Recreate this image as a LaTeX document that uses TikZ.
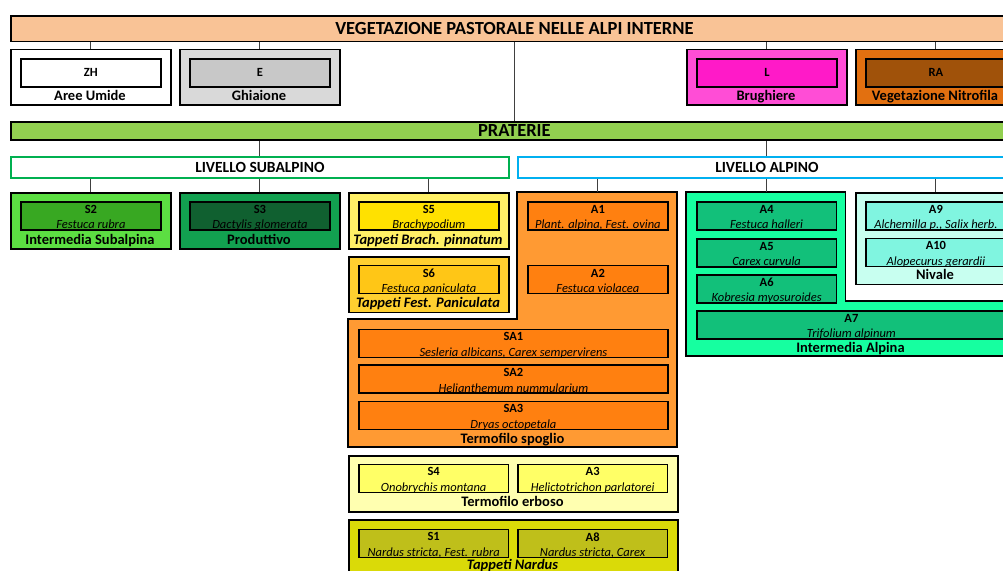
\documentclass[tikz,border=0pt]{standalone}
\usepackage{fontspec}
\setmainfont{Carlito}
\usepackage{tikz}
\usetikzlibrary{positioning,calc}

\definecolor{vegOr}{RGB}{249,195,150}
\definecolor{pratG}{RGB}{146,208,80}
\definecolor{subG}{RGB}{0,176,80}
\definecolor{alpB}{RGB}{0,176,240}
\definecolor{ghiaO}{RGB}{217,217,217}
\definecolor{ghiaI}{RGB}{200,200,200}
\definecolor{brugO}{RGB}{255,77,214}
\definecolor{brugI}{RGB}{255,26,200}
\definecolor{nitrO}{RGB}{226,112,16}
\definecolor{nitrI}{RGB}{160,82,10}
\definecolor{isubO}{RGB}{92,222,66}
\definecolor{isubI}{RGB}{56,168,34}
\definecolor{prodO}{RGB}{18,160,80}
\definecolor{prodI}{RGB}{16,96,48}
\definecolor{brachO}{RGB}{255,240,102}
\definecolor{brachI}{RGB}{255,225,0}
\definecolor{festO}{RGB}{255,208,48}
\definecolor{festI}{RGB}{255,198,22}
\definecolor{spogO}{RGB}{255,154,51}
\definecolor{spogI}{RGB}{255,128,16}
\definecolor{ialpO}{RGB}{22,255,160}
\definecolor{ialpI}{RGB}{18,192,122}
\definecolor{nivO}{RGB}{200,255,240}
\definecolor{nivI}{RGB}{128,245,224}
\definecolor{erbO}{RGB}{255,255,176}
\definecolor{erbI}{RGB}{255,255,102}
\definecolor{nardO}{RGB}{218,218,8}
\definecolor{nardI}{RGB}{191,191,26}

% inner box: name, x, y, width, fill, code, species
\newcommand{\spbox}[7]{%
  \node[inb, minimum width=#4pt, fill=#5, path picture={
    \node[code, anchor=center] (#1c) at ([yshift=-7.5pt]path picture bounding box.north) {#6};
    \node[spec, anchor=base] (#1s) at ([yshift=1pt]path picture bounding box.south) {#7};
  }] (#1) at (#2,#3) {};}

\begin{document}
\begin{tikzpicture}[x=1pt, y=-1pt,
  outl/.style={draw=black, line width=1.8pt},
  grp/.style={outl, anchor=north west, inner sep=0pt},
  bar/.style={grp, font=\bfseries\fontsize{18.5}{19}\selectfont},
  lvl/.style={line width=1.8pt, fill=white, anchor=north west, inner sep=0pt,
    minimum width=498pt, minimum height=21pt, font=\bfseries\fontsize{15.5}{16}\selectfont},
  inb/.style={outl, anchor=north west, inner sep=0pt, minimum height=28pt},
  code/.style={draw=none, fill=none, inner sep=0pt, minimum size=0pt,
    font=\bfseries\fontsize{12.5}{13}\selectfont},
  spec/.style={draw=none, fill=none, inner sep=0pt, minimum size=0pt,
    font=\itshape\fontsize{12.5}{13}\selectfont},
  glab/.style={inner sep=0pt, anchor=base, font=\bfseries\fontsize{14.5}{15}\selectfont},
  glabi/.style={glab, font=\bfseries\itshape\fontsize{14.5}{15}\selectfont},
  conn/.style={draw=black!75, line width=0.9pt}]
\useasboundingbox (0,0) rectangle (1003,570);
\clip (0,0) rectangle (1003,570);

% main levels
\node[bar, fill=vegOr, minimum width=1007pt, minimum height=25.5pt] (veg) at (10,15) {VEGETAZIONE PASTORALE NELLE ALPI INTERNE};
\node[bar, fill=pratG, minimum width=1007pt, minimum height=18.5pt] (prat) at (10,120.7) {PRATERIE};
\node[lvl, draw=subG] (subalp) at (10,155.7) {LIVELLO SUBALPINO};
\node[lvl, draw=alpB] (alp) at (517,155.7) {LIVELLO ALPINO};
\draw[conn] (veg) -- (prat);
\foreach \g in {subalp,alp}
  \draw[conn] (\g.north |- prat.south) -- (\g.north);

% other vegetation
\foreach \n/\x/\o/\i/\c/\l in {zh/10/white/white/ZH/Aree Umide, ghi/179/ghiaO/ghiaI/E/Ghiaione,
    bru/686/brugO/brugI/L/Brughiere, nit/855/nitrO/nitrI/RA/Vegetazione Nitrofila} {
  \node[grp, fill=\o, minimum width=160pt, minimum height=55.5pt] (\n) at (\x,48.5) {};
  \node[inb, code, draw=black, fill=\i, minimum width=140pt, minimum height=28pt] (\n-in) at (\x+10,58) {\c};
  \node[glab] (\n-lb) at (\x+80,100.5) {\l};
  \draw[conn] (\n.north |- veg.south) -- (\n.north);
}

% subalpino
\node[grp, fill=isubO, minimum width=160pt, minimum height=56pt] (gS2) at (10,192) {};
\spbox{s2}{20}{201}{140}{isubI}{S2}{Festuca rubra}
\node[glab] (gS2l) at (90,244) {Intermedia Subalpina};
\node[grp, fill=prodO, minimum width=160pt, minimum height=56pt] (gS3) at (179,192) {};
\spbox{s3}{189}{201}{140}{prodI}{S3}{Dactylis glomerata}
\node[glab] (gS3l) at (259,244) {Produttivo};
\node[grp, fill=brachO, minimum width=160pt, minimum height=56pt] (gS5) at (348,192) {};
\spbox{s5}{358}{201}{140}{brachI}{S5}{Brachypodium}
\node[glabi] (gS5l) at (428,244) {Tappeti Brach. pinnatum};
\node[grp, fill=festO, minimum width=160pt, minimum height=55.5pt] (gS6) at (348,256) {};
\spbox{s6}{358}{264.5}{140}{festI}{S6}{Festuca paniculata}
\node[glabi] (gS6l) at (428,307.5) {Tappeti Fest. Paniculata};

% termofilo spoglio
\draw[outl, fill=spogO] (517,192) -- (677,192) -- (677,447) -- (348,447) -- (348,319) -- (517,319) -- cycle;
\coordinate (gSp) at (597,192);
\spbox{a1}{527}{201}{140}{spogI}{A1}{Plant. alpina, Fest. ovina}
\spbox{a2}{527}{264.5}{140}{spogI}{A2}{Festuca violacea}
\spbox{sa1}{358}{328.5}{309}{spogI}{SA1}{Sesleria albicans, Carex sempervirens}
\spbox{sa2}{358}{364.3}{309}{spogI}{SA2}{Helianthemum nummularium}
\spbox{sa3}{358}{400.5}{309}{spogI}{SA3}{Dryas octopetala}
\node[glab] (gSpl) at (512.5,443) {Termofilo spoglio};

% intermedia alpina
\draw[outl, fill=ialpO] (686,192) -- (845.5,192) -- (845.5,301) -- (1015,301) -- (1015,356) -- (686,356) -- cycle;
\coordinate (gIA) at (766,192);
\spbox{a4}{696}{201}{139.5}{ialpI}{A4}{Festuca halleri}
\spbox{a5}{696}{237.7}{139.5}{ialpI}{A5}{Carex curvula}
\spbox{a6}{696}{274}{139.5}{ialpI}{A6}{Kobresia myosuroides}
\spbox{a7}{696}{310}{309}{ialpI}{A7}{Trifolium alpinum}
\node[glab] (gIAl) at (850.5,352) {Intermedia Alpina};

% nivale
\node[grp, fill=nivO, minimum width=160pt, minimum height=91.5pt] (gNiv) at (855,192) {};
\spbox{a9}{865}{201}{140}{nivI}{A9}{Alchemilla p., Salix herb.}
\spbox{a10}{865}{237.5}{140}{nivI}{A10}{Alopecurus gerardii}
\node[glab] (gNivl) at (935,279.5) {Nivale};

% termofilo erboso, nardus
\node[grp, fill=erbO, minimum width=329pt, minimum height=56pt] (gErb) at (348,455) {};
\spbox{s4}{358}{463.5}{149.5}{erbI}{S4}{Onobrychis montana}
\spbox{a3}{517}{463.5}{149.5}{erbI}{A3}{Helictotrichon parlatorei}
\node[glab] (gErbl) at (512.5,506.5) {Termofilo erboso};
\node[grp, fill=nardO, minimum width=329pt, minimum height=60pt] (gNar) at (348,519) {};
\spbox{s1}{358}{528.5}{149.5}{nardI}{S1}{Nardus stricta, Fest. rubra}
\spbox{a8}{517}{528.5}{149.5}{nardI}{A8}{Nardus stricta, Carex}
\node[glabi] (gNarl) at (512.5,569.5) {Tappeti Nardus};

% connectors
\foreach \g in {gS2.north,gS3.north,gS5.north}
  \draw[conn] (\g |- subalp.south) -- (\g);
\foreach \g in {gSp,gIA,gNiv.north}
  \draw[conn] (\g |- alp.south) -- (\g);
\end{tikzpicture}
\end{document}
